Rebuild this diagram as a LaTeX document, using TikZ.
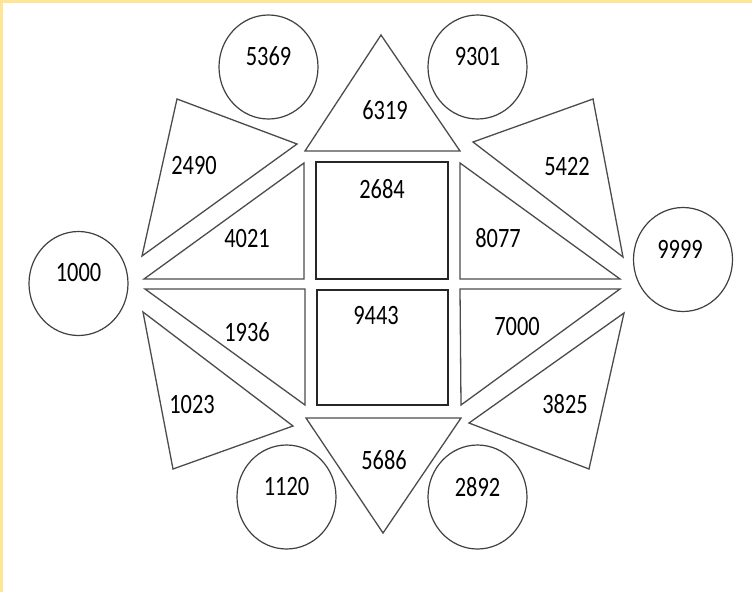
\documentclass[tikz,border=0pt]{standalone}
\usepackage{fontspec}
\usepackage{xcolor}
\usepackage{tikz}
\usetikzlibrary{shapes.geometric}
\newfontfamily\numfont[FakeStretch=0.8]{Carlito}
\definecolor{frameyellow}{RGB}{255,230,150}
\tikzset{
  rnd/.style={draw=black!75,ellipse,line width=1.2pt,minimum width=99pt,
              minimum height=104pt,inner sep=0pt},  % circles
  tri/.style={draw=black!70,line width=1.3pt,line join=miter},  % triangles
  sq/.style={draw=black!85,line width=1.3pt},                   % squares
  num/.style={font=\numfont\fontsize{28pt}{30pt}\selectfont,inner sep=0pt,text=black}
}
\begin{document}
\begin{tikzpicture}[x=1pt,y=-1pt]
  \useasboundingbox (0,0) rectangle (752,592);
  \fill[frameyellow] (0,0) rectangle (752,592);
  \fill[white] (2.5,2.5) rectangle (752,592);

  % outer circles
  \node[rnd] (c5369) at (268.5,67) {};
  \node[num] (t5369) at ([yshift=10.5pt]c5369.center) {5369};
  \node[rnd] (c9301) at (477.5,67) {};
  \node[num] (t9301) at ([yshift=10.5pt]c9301.center) {9301};
  \node[rnd] (c1000) at (78.5,283.5) {};
  \node[num] (t1000) at ([yshift=11pt]c1000.center) {1000};
  \node[rnd] (c9999) at (683,259.5) {};
  \node[num] (t9999) at ([xshift=-3pt,yshift=10.5pt]c9999.center) {9999};
  \node[rnd] (c1120) at (286.5,497) {};
  \node[num] (t1120) at ([yshift=10pt]c1120.center) {1120};
  \node[rnd] (c2892) at (477.5,497) {};
  \node[num] (t2892) at ([yshift=10pt]c2892.center) {2892};

  % outer triangles
  \draw[tri] (177,99) -- (297,144) -- (142,256) -- cycle;
  \node[num] (t2490) at (194,166) {2490};
  \draw[tri] (381,35) -- (460,151) -- (305,151) -- cycle;
  \node[num] (t6319) at (385,110) {6319};
  \draw[tri] (593,99) -- (623,257) -- (473,142) -- cycle;
  \node[num] (t5422) at (567,167) {5422};
  \draw[tri] (143,312) -- (293,426) -- (173,469) -- cycle;
  \node[num] (t1023) at (192,405) {1023};
  \draw[tri] (306,418) -- (461,418) -- (383,533) -- cycle;
  \node[num] (t5686) at (384,460) {5686};
  \draw[tri] (624,313) -- (589,469) -- (469,423) -- cycle;
  \node[num] (t3825) at (565,404) {3825};

  % inner right triangles
  \draw[tri] (304,163) -- (304,279) -- (144,279) -- cycle;
  \node[num] (t4021) at (247,239) {4021};
  \draw[tri] (460,163) -- (620,279) -- (460,279) -- cycle;
  \node[num] (t8077) at (498,238) {8077};
  \draw[tri] (145,289) -- (305,289) -- (305,405) -- cycle;
  \node[num] (t1936) at (247,332) {1936};
  \draw[tri] (460,289) -- (620,289) -- (461,405) -- cycle;
  \node[num] (t7000) at (517,327) {7000};

  % centre squares
  \draw[sq] (316,162) rectangle (448,279);
  \node[num] (t2684) at (382,189) {2684};
  \draw[sq] (317,290) rectangle (448,405);
  \node[num] (t9443) at (376,316) {9443};
\end{tikzpicture}
\end{document}
